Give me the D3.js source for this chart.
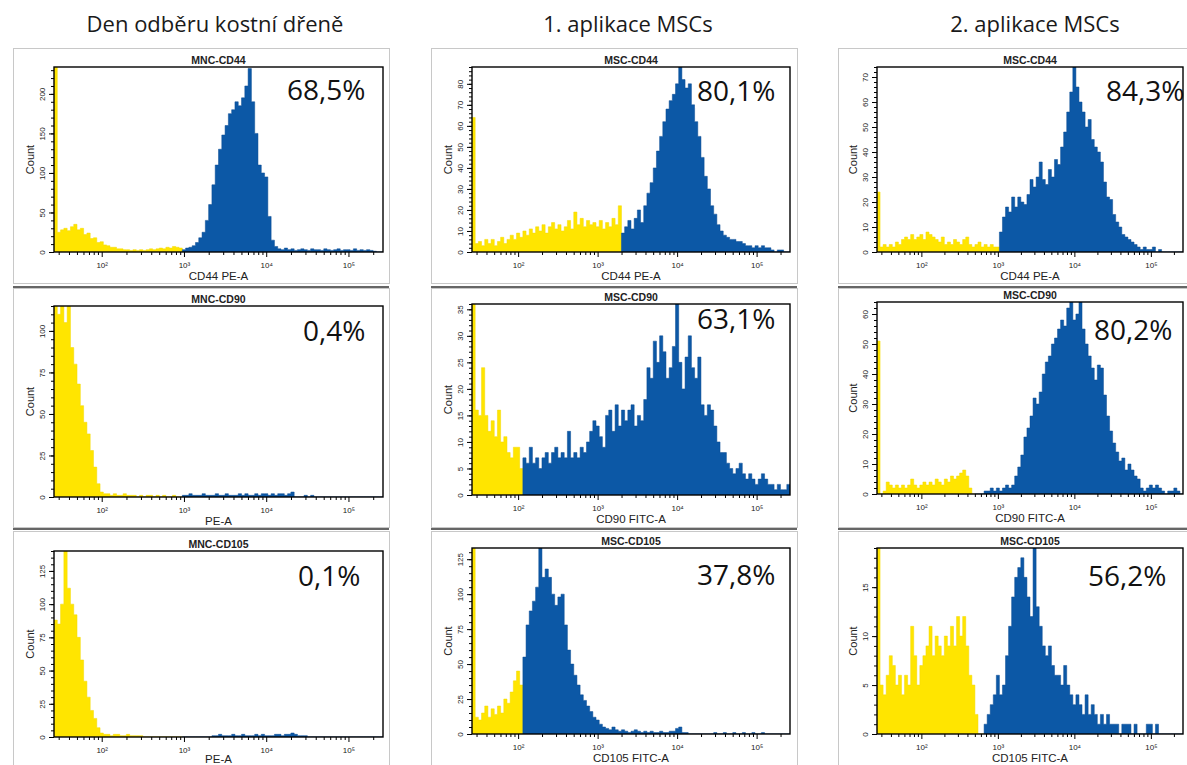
<!DOCTYPE html>
<html>
<head>
<meta charset="utf-8">
<script src="https://cdn.jsdelivr.net/npm/d3@7"></script>
<style>
body { margin: 0; background: #fff; }
svg { display: block; }
</style>
</head>
<body>
<svg width="1187" height="765"></svg>
<script>
// column headers and panel texts (row by row)
const headers = ["Den odběru kostní dřeně", "1. aplikace MSCs", "2. aplikace MSCs"];
const titles = ["MNC-CD44", "MSC-CD44", "MSC-CD44",
                "MNC-CD90", "MSC-CD90", "MSC-CD90",
                "MNC-CD105", "MSC-CD105", "MSC-CD105"];
const xLabels = ["CD44 PE-A", "CD44 PE-A", "CD44 PE-A",
                 "PE-A", "CD90 FITC-A", "CD90 FITC-A",
                 "PE-A", "CD105 FITC-A", "CD105 FITC-A"];
const percents = ["68,5%", "80,1%", "84,3%", "0,4%", "63,1%", "80,2%", "0,1%", "37,8%", "56,2%"];

// y axis top and major tick step per panel
const yMax = [234, 88, 74, 115, 36, 64, 140, 133, 19];
const yStep = [50, 10, 10, 25, 5, 10, 25, 25, 5];

// gate: events below are yellow, above blue
const gates = [990, 2000, 1050, 990, 115, 500, 990, 115, 650];

// histogram bins: 100 bins of 0.04 decade starting at 10^1.42
const binStart = 1.42;
const binWidth = 0.04;

const mncCd44 = [240, 25,28,30,27,32,35,28,30,22,24, 17,18,12,13,9,8,6,6,4,4,
  3,3,2,3,2,3,2,3,4,3, 4,5,4,6,5,7,6,5, 3,5,6,8,12,18,25,40,60,85,
  110,130,148,160,175,180,190,185,195,210, 232,190,150,110,100,95,45,15,7,
  4,3,5,3,4,2,3,4,3,2,4,3,3,2,4,3,2,3,4,2,3,3,2,4,2,3,2,3,2,1, 0,0];
const mscCd44a = [64, 4,5,3,6,4,6,3,5,7,4, 6,8,6,9,7,10,8,11,9,12,
  10,13,9,12,14,11,13,10,12,15, 11,19,13,16,12,15,13,14,12,15, 11,14,12,16,13,22,
  9,12,15,11,16,20,14,22,28,33, 40,48,55,62,68,72,75,80,88,82,
  78,80,70,62,55,45,36,30,22,18, 13,10,8,7,6,6,5,5,4,3, 3,2,3,2,3,2,2,1,0,1, 1,0,0];
const mscCd44b = [24, 2,3,2,3,2,4,3,5,6,5, 7,5,6,7,5,8,7,6,5,4,
  6,3,4,3,5,4,3,5,6,3, 2,3,4,2,3,2,3,2,2,
  8,14,18,16,22,18,22,20,19,23, 29,26,30,36,29,27,33,30,37,35,
  42,48,56,64,74,66,60,56,50,53, 45,42,40,36,28,22,21,15,12,10,
  7,6,5,4,3,2,1,2,1,1, 2,0,1,0,0,0,0,0,0,0];
const mncCd90 = [120, 110,120,105,118,90,80,68,55,45,38,28,18,8,3,
  2,2,1,2,1,1,2,1, 1,1,0,1,0,1,1,0,1,0,1,0,0,1,0,0,
  1,1,2,1,1,1,2,1,1,1,2,1,1,2,1,1,1,2,1,2,1,1,2,1,2,2,1,2,1,2,2,1,2,3,
  0,0,0,1,0,1, 0,0,0,0,0,0,0,0,0,0,0,0,0,0,0,0,0,0,0,0,0];
const mscCd90a = [40, 16,15,24,15,12,14,11,16,10,11,8,7,9,9,5,
  7,6,9,6,7,5,7,8,6,8, 9,7,8,7,12,7,8,7,9,8, 10,12,14,13,11,9,15,16,12,17,
  13,16,14,16,17,13,15,14,18,24, 22,29,25,30,27,22,24,28,36,25,
  20,26,30,24,22,26,17,15,17,16, 13,10,8,8,6,5,4,5,6,4, 3,4,3,2,3,4,3,2,2,1, 2,1,1,2];
const mscCd90b = [51, 0,1,4,3,2,3,2,3,2,3, 5,3,2,3,4,3,4,3,5,4, 3,5,4,6,5,6,7,8,6,2,
  0,0,0,0, 1,1,2,1,2,1,2,3,2,3, 6,9,13,19,22,26,32,30,34,40,
  44,46,50,52,55,58,56,62,64,58, 60,64,55,50,46,42,38,43,42,33,
  26,21,17,14,11,12,8,10,8,6, 5,2,1,2,3,2,3,2,1,0, 1,1,2,1,0];
const mncCd105 = [88,85,100,140,112,100,92,75,58,42,30,20,14,7,3,
  2,2,1,2,2,1,1,2,1,1,1,1,
  0,0,0,0,0,0,0,0,0,0,0,0,0,0,0,0,0,0,0,0,0,
  1,1,2,1,1,1,2,1,1,2,1,1,1,2,1,2,1,1,1,2,2,1,2,2,3,2,1,1,1,
  0,0,0,0,0,0,0,0,0,0,0,0,0,0,0,0,0,0,0,0,0,0,0];
const mscCd105a = [140, 12,10,15,20,12,18,14,20,15,25,22,30,38,45,35,
  55,78,88,95,105,133,112,118,112,100, 92,98,100,78,60,50,42,35,28,24,
  20,16,12,10,7,5,4,3,5,3, 2,3,2,1,2,3,2,1,2,1, 2,1,1,2,1,1,2,2,4,5,
  1,1,0,0,0,0,0,0,0,0, 1,0,0,1,0,0,1,0,0,1, 0,0,1,0,0,1,0,0,0,0, 0,0,0,0];
const mscCd105b = [20, 5,4,6,8,7,5,6,4,6,5, 11,8,5,7,8,9,11,8,10,9, 8,10,9,11,9,12,10,12,9,6,
  5,2,0,0, 1,2,3,4,6,4,5,8,11,14, 16,17,18,16,14,12,19,13,11,9,
  8,9,7,6,6,5,7,5,4,3, 4,3,2,4,2,3,2,1,2,1, 2,1,1,1,0,1,1,1,0,1,
  0,0,0,1,1,0,1,0,0,0, 0,0,0,0,0];

const histograms = [mncCd44, mscCd44a, mscCd44b, mncCd90, mscCd90a, mscCd90b, mncCd105, mscCd105a, mscCd105b];

const xMajor = [1e2, 1e3, 1e4, 1e5];
const xMinor = [30,40,50,60,70,80,90, 200,300,400,500,600,700,800,900,
  2000,3000,4000,5000,6000,7000,8000,9000, 20000,30000,40000,50000,60000,70000,80000,90000, 200000];
const sup = {2: "\u00b2", 3: "\u00b3", 4: "\u2074", 5: "\u2075"};

// layout
const colFrame = [[13, 389], [431, 797], [838, 1195]];
const rowFrame = [[48, 283], [288, 527], [531, 772]];
const seps = [287, 529];
const plotX = [[54, 383], [472, 790], [877, 1183]];
const plotY = [[[67, 252], [67, 252], [67, 252]],
               [[306, 497], [304, 495], [302, 494]],
               [[551, 737], [548, 734], [548, 734]]];
const pctPos = [[287, 100], [697, 101], [1106, 101], [303, 341], [697, 329], [1094, 340], [298, 586], [697, 585], [1088, 586]];
const headerX = [215, 628, 1035];

const yellow = "#ffe500", blue = "#0c58a6";
const axisFont = "Liberation Sans, Arial, sans-serif";

const svg = d3.select("svg");

headers.forEach((h, c) => {
    svg.append("text")
        .attr("x", headerX[c]).attr("y", 32)
        .attr("text-anchor", "middle")
        .attr("font-family", "Open Sans")
        .attr("font-size", 22)
        .attr("fill", "#1a1a1a")
        .text(h);
});

const edge = i => Math.pow(10, binStart + binWidth * i);

histograms.forEach((counts, k) => {
    const r = Math.floor(k / 3), c = k % 3;
    const [x0, x1] = plotX[c];
    const [y0, y1] = plotY[r][c];

    // panel frame
    svg.append("rect")
        .attr("x", colFrame[c][0] + 0.5).attr("y", rowFrame[r][0] + 0.5)
        .attr("width", colFrame[c][1] - colFrame[c][0]).attr("height", rowFrame[r][1] - rowFrame[r][0])
        .attr("fill", "none").attr("stroke", "#c8c8c8");

    const g = svg.append("g");

    const x = d3.scaleLog()
        .domain([edge(0), edge(counts.length)])
        .range([x0, x1]);
    const y = d3.scaleLinear()
        .domain([0, yMax[k]])
        .range([y1, y0]);

    const clipId = "clip" + k;
    g.append("clipPath").attr("id", clipId)
        .append("rect").attr("x", x0).attr("y", y0).attr("width", x1 - x0).attr("height", y1 - y0);

    const area = d3.area()
        .x(d => x(d[0]))
        .y0(y(0))
        .y1(d => y(d[1]))
        .curve(d3.curveStepAfter);

    const gl = Math.log10(gates[k]);
    let split = counts.findIndex((v, i) => binStart + binWidth * (i + 0.5) >= gl);
    if (split < 0) split = counts.length;

    const seg = (a, b) => {
        const pts = d3.range(a, b).map(i => [edge(i), counts[i]]);
        pts.push([edge(b), counts[b - 1]]);
        return pts;
    };

    const hist = g.append("g").attr("clip-path", `url(#${clipId})`);
    hist.append("path")
        .attr("d", area(seg(0, split)))
        .attr("fill", yellow).attr("stroke", "#f3d900").attr("stroke-width", 0.5);
    hist.append("path")
        .attr("d", area(seg(split, counts.length)))
        .attr("fill", blue).attr("stroke", "#084a93").attr("stroke-width", 0.5);

    // percentage with white box behind it (kept inside the plot)
    const pg = g.append("g").attr("clip-path", `url(#${clipId})`);
    const bgRect = pg.append("rect").attr("fill", "#fff");
    const t = g.append("text")
        .attr("x", pctPos[k][0]).attr("y", pctPos[k][1])
        .attr("font-family", "Open Sans").attr("font-size", 28)
        .attr("fill", "#111")
        .text(percents[k]);
    const bb = t.node().getBBox();
    bgRect.attr("x", bb.x - 2).attr("y", bb.y + 3)
        .attr("width", bb.width + 4).attr("height", bb.height - 4);

    // x axis
    g.append("g")
        .attr("transform", `translate(0,${y1})`)
        .call(d3.axisBottom(x).tickValues(xMinor).tickSize(3).tickFormat(""))
        .call(a => a.select(".domain").remove());
    g.append("g")
        .attr("transform", `translate(0,${y1})`)
        .call(d3.axisBottom(x).tickValues(xMajor).tickSize(5).tickPadding(5)
            .tickFormat(v => "10" + sup[Math.round(Math.log10(v))]))
        .call(a => a.select(".domain").remove())
        .call(a => a.selectAll("text").attr("font-family", axisFont).attr("font-size", 8).attr("fill", "#222"));

    // y axis
    const step = yStep[k];
    g.append("g")
        .attr("transform", `translate(${x0},0)`)
        .call(d3.axisLeft(y).tickValues(d3.range(0, yMax[k] + 1e-9, step / 5)).tickSize(3).tickFormat(""))
        .call(a => a.select(".domain").remove());
    g.append("g")
        .attr("transform", `translate(${x0},0)`)
        .call(d3.axisLeft(y).tickValues(d3.range(0, yMax[k] + 1e-9, step)).tickSize(5))
        .call(a => a.select(".domain").remove())
        .call(a => a.selectAll("text")
            .attr("font-family", axisFont).attr("font-size", 8).attr("fill", "#222")
            .attr("x", 0).attr("dy", 0)
            .attr("text-anchor", "middle")
            .attr("transform", "translate(-9,0) rotate(-90)"));

    // plot box
    g.append("rect")
        .attr("x", x0).attr("y", y0)
        .attr("width", x1 - x0).attr("height", y1 - y0)
        .attr("fill", "none").attr("stroke", "#000").attr("stroke-width", 1.4);

    g.append("text")
        .attr("x", (x0 + x1) / 2).attr("y", y0 - 3)
        .attr("text-anchor", "middle")
        .attr("font-family", axisFont).attr("font-size", 10.5).attr("font-weight", "bold")
        .attr("fill", "#222")
        .text(titles[k]);

    g.append("text")
        .attr("x", (x0 + x1) / 2).attr("y", Math.min(y1 + 28, 763))
        .attr("text-anchor", "middle")
        .attr("font-family", axisFont).attr("font-size", 11.5)
        .attr("fill", "#222")
        .text(xLabels[k]);

    g.append("text")
        .attr("transform", `translate(${x0 - 20},${(y0 + y1) / 2}) rotate(-90)`)
        .attr("text-anchor", "middle")
        .attr("font-family", axisFont).attr("font-size", 11)
        .attr("fill", "#222")
        .text("Count");
});

// dark separators between rows
seps.forEach(sy => {
    colFrame.forEach(([a, b]) => {
        svg.append("line")
            .attr("x1", a).attr("x2", b).attr("y1", sy).attr("y2", sy)
            .attr("stroke", "#333").attr("stroke-width", 1.5);
    });
});
</script>
</body>
</html>
